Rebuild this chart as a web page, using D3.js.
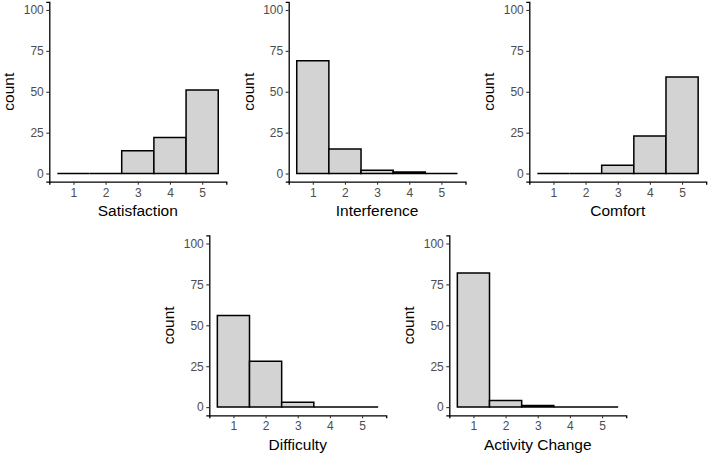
<!DOCTYPE html>
<html>
<head>
<meta charset="utf-8">
<script src="https://cdn.jsdelivr.net/npm/d3@7"></script>
<style>
  html, body { margin: 0; padding: 0; background: #fff; }
  svg { display: block; }
  text { font-family: "Liberation Sans", Arial, Helvetica, sans-serif; }
</style>
</head>
<body>
<svg id="chart" width="708" height="456"></svg>
<script>
// ---- data ----
const categories = [1, 2, 3, 4, 5];
const satisfaction = [0, 0, 14, 22, 51];
const interference = [69, 15, 2, 1, 0];
const comfort = [0, 0, 5, 23, 59];
const difficulty = [56, 28, 3, 0, 0];
const activityChange = [82, 4, 1, 0, 0];
const yTicks = [0, 25, 50, 75, 100];
const xTicks = [1, 2, 3, 4, 5];
const titles = ["Satisfaction", "Interference", "Comfort", "Difficulty", "Activity Change"];
const seriesList = [satisfaction, interference, comfort, difficulty, activityChange];

// ---- layout (panel plotting areas) ----
const panels = [
  { left: 49.3, right: 226.3, top: 1.8, bottom: 181.7 },
  { left: 288.7, right: 465.5, top: 1.8, bottom: 181.7 },
  { left: 529.3, right: 706.2, top: 1.8, bottom: 181.7 },
  { left: 209.3, right: 386.2, top: 235.3, bottom: 415.3 },
  { left: 449.3, right: 626.2, top: 235.3, bottom: 415.3 }
];

const svg = d3.select("#chart");

panels.forEach((p, i) => {
  const values = seriesList[i];
  const data = categories.map((c, j) => ({ c, v: values[j] }));
  const x = d3.scaleLinear().domain([0.25, 5.75]).range([p.left, p.right]);
  const y = d3.scaleLinear().domain([-5, 105]).range([p.bottom, p.top]);
  const g = svg.append("g");

  // bars (paths so zero-count bars still show their outline)
  g.selectAll("path.bar").data(data).enter().append("path")
    .attr("class", "bar")
    .attr("d", d => {
      const pa = d3.path();
      const x0 = x(d.c - 0.5), x1 = x(d.c + 0.5), y0 = y(0), y1 = y(d.v);
      pa.moveTo(x0, y0);
      pa.lineTo(x0, y1);
      pa.lineTo(x1, y1);
      pa.lineTo(x1, y0);
      pa.closePath();
      return pa.toString();
    })
    .attr("fill", "#d3d3d3")
    .attr("stroke", "#000")
    .attr("stroke-width", 1.5)
    .attr("stroke-linejoin", "miter");

  // y axis
  const ya = g.append("g")
    .attr("transform", `translate(${p.left},0)`)
    .call(d3.axisLeft(y).tickValues(yTicks).tickFormat(d3.format("d")).tickSizeOuter(0).tickSize(3).tickPadding(2.5));
  // x axis
  const xa = g.append("g")
    .attr("transform", `translate(0,${p.bottom})`)
    .call(d3.axisBottom(x).tickValues(xTicks).tickFormat(d3.format("d")).tickSizeOuter(0).tickSize(3).tickPadding(3.5));

  [ya, xa].forEach(a => {
    a.select(".domain").attr("stroke", "#000").attr("stroke-width", 1.3);
    a.selectAll(".tick line").attr("stroke", "#333").attr("stroke-width", 1.1);
    a.selectAll(".tick text").attr("fill", "#4d4d4d")
      .style("font-size", "12px")
      .style("font-family", "'Liberation Sans', Arial, sans-serif");
  });

  // x title
  g.append("text")
    .attr("x", (p.left + p.right) / 2)
    .attr("y", p.bottom + 34.5)
    .attr("text-anchor", "middle")
    .attr("fill", "#000")
    .style("font-size", "15.5px")
    .text(titles[i]);

  // y title
  g.append("text")
    .attr("transform", `translate(${p.left - 35},${(p.top + p.bottom) / 2}) rotate(-90)`)
    .attr("text-anchor", "middle")
    .attr("fill", "#000")
    .style("font-size", "15.5px")
    .text("count");
});
</script>
</body>
</html>
